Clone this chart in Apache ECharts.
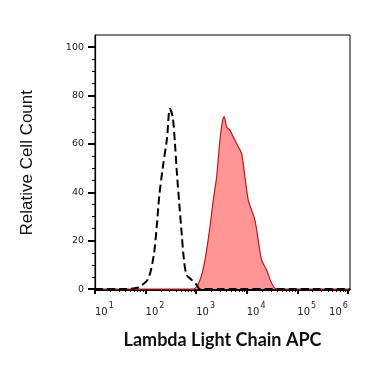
<!DOCTYPE html>
<html><head><meta charset="utf-8">
<script src="https://cdn.jsdelivr.net/npm/echarts@6/dist/echarts.min.js"></script>
<style>html,body{margin:0;padding:0;background:#fff}#c{width:371px;height:366px}</style>
</head><body><div id="c"></div>
<script>
// Isotype control (dashed): fluorescence intensity, relative cell count
var isoX = [10, 32, 56, 72, 111, 145, 166, 186, 218, 265, 302, 343, 381, 412, 463, 517, 574, 649, 815, 1023, 1189, 3000, 1100000];
var isoY = [0, 0, 0.2, 0.7, 4, 14, 25.8, 38.2, 50, 62.3, 74.5, 71.2, 60.2, 49.2, 35.4, 23, 12, 5.8, 3.8, 1.7, 0, 0, 0];
// Lambda Light Chain APC stained (red filled)
var stainX = [10, 877, 1189, 1493, 1875, 2178, 2541, 2951, 3342, 3589, 4009, 4656, 5408, 6792, 7925, 9204, 10715, 12503, 14521, 16866, 19679, 24717, 31046, 38994, 1100000];
var stainY = [0, 0, 3.7, 12, 25.7, 36.8, 46.4, 61.6, 69.8, 71.2, 67, 65.7, 62.9, 58.8, 56, 46.4, 36.8, 32.6, 28.5, 20.2, 12, 7.9, 2.4, 0, 0];
// Axis ticks
var xMajor = [10, 100, 1000, 10000, 100000, 1000000];
var yMajor = [0, 20, 40, 60, 80, 100];
var yMinor = [5, 10, 15, 25, 30, 35, 45, 50, 55, 65, 70, 75, 85, 90, 95];
var xMinor = [];
xMajor.slice(0, 5).forEach(function (d) { for (var k = 2; k <= 9; k++) xMinor.push(d * k); });

function pairs(xs, ys) { return xs.map(function (x, i) { return [x, ys[i]]; }); }

var chart = echarts.init(document.getElementById('c'), null, {renderer: 'canvas'});
var labelFont = 'DejaVu Sans';
chart.setOption({
  animation: false,
  grid: {left: 95, right: 21, top: 35, bottom: 75.5, show: true, borderColor: '#000', borderWidth: 1, backgroundColor: 'transparent'},
  xAxis: [{
    type: 'log', logBase: 10, min: 10, max: 1100000,
    name: 'Lambda Light Chain APC', nameLocation: 'middle', nameGap: 41,
    nameTextStyle: {fontFamily: 'Lato', fontWeight: 'bold', fontSize: 18, color: '#111'},
    axisLine: {lineStyle: {color: '#000', width: 1.2}},
    axisTick: {customValues: xMajor, length: 5, lineStyle: {color: '#000', width: 2}},
    axisLabel: {
      customValues: xMajor, align: 'left', alignMaxLabel: 'right', margin: 11,
      formatter: function (v) { return '{b|10}{s|' + Math.round(Math.log10(v)) + '}'; },
      rich: {
        b: {fontFamily: labelFont, fontSize: 10, color: '#222', verticalAlign: 'bottom', lineHeight: 16},
        s: {fontFamily: labelFont, fontSize: 8, color: '#222', verticalAlign: 'top', lineHeight: 16, padding: [0, 0, 0, 1]}
      }
    },
    splitLine: {show: false}
  }, {
    type: 'log', logBase: 10, min: 10, max: 1100000, position: 'bottom',
    axisLine: {show: false},
    axisTick: {customValues: xMinor, length: 3, lineStyle: {color: '#000', width: 1}},
    axisLabel: {show: false}, splitLine: {show: false}
  }],
  yAxis: [{
    type: 'value', min: -0.6, max: 105,
    name: 'Relative Cell Count', nameLocation: 'middle', nameGap: 59,
    nameTextStyle: {fontFamily: 'Liberation Sans', fontSize: 17, color: '#111'},
    axisLine: {show: true, lineStyle: {color: '#000', width: 1.2}},
    axisTick: {customValues: yMajor, length: 7, lineStyle: {color: '#000', width: 2}},
    axisLabel: {customValues: yMajor, margin: 11, fontFamily: labelFont, fontSize: 9.5, color: '#222'},
    splitLine: {show: false}
  }, {
    type: 'value', min: -0.6, max: 105, position: 'left',
    axisLine: {show: false},
    axisTick: {customValues: yMinor, length: 3, lineStyle: {color: '#000', width: 1}},
    axisLabel: {show: false}, splitLine: {show: false}
  }],
  series: [{
    type: 'line', name: 'Stained', data: pairs(stainX, stainY), smooth: 0.3, symbol: 'none',
    lineStyle: {color: '#c4161c', width: 1.2},
    areaStyle: {color: '#ff9595', opacity: 1},
    z: 2
  }, {
    type: 'line', name: 'Isotype', data: pairs(isoX, isoY), smooth: 0.3, symbol: 'none',
    lineStyle: {color: '#000', width: 2, type: [8, 4]},
    z: 3
  }]
});
</script></body></html>
